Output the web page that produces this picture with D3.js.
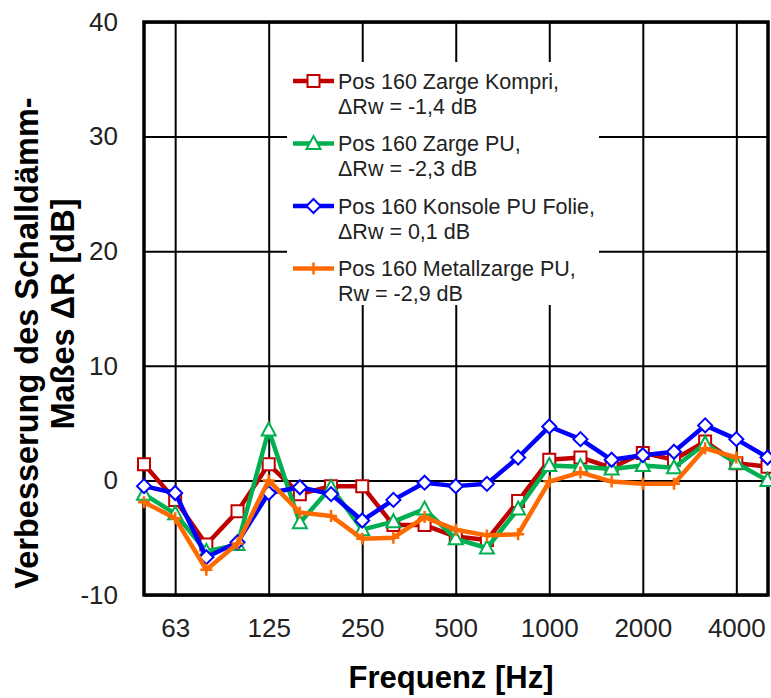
<!DOCTYPE html>
<html>
<head>
<meta charset="utf-8">
<script src="https://cdn.jsdelivr.net/npm/d3@7"></script>
<style>
  body { margin: 0; background: #fff; }
  svg { font-family: 'Liberation Sans', Arial, sans-serif; }
</style>
</head>
<body>
<svg id="chart"></svg>
<script>
var width = 771;
var height = 698;

var plotLeft = 144, plotRight = 768, plotTop = 22, plotBottom = 595;

// terzband frequencies (category axis)
var freqs = ['50', '63', '80', '100', '125', '160', '200', '250', '315', '400', '500',
             '630', '800', '1000', '1250', '1600', '2000', '2500', '3150', '4000', '5000'];
var tickLabels = ['63', '125', '250', '500', '1000', '2000', '4000'];
var yTicks = [-10, 0, 10, 20, 30, 40];

var zargeKompri = [1.4, -1.7, -5.6, -2.7, 1.4, -1.2, -0.5, -0.5, -3.9, -3.9, -4.9,
                   -5.2, -1.8, 1.8, 2.0, 1.1, 2.4, 1.8, 3.4, 1.5, 1.2];
var zargePU = [-1.2, -2.9, -6.2, -5.6, 4.4, -3.7, -0.6, -4.3, -3.6, -2.5, -5.1,
               -5.9, -2.5, 1.3, 1.2, 1.0, 1.3, 1.1, 3.2, 1.5, 0.0];
var konsolePU = [-0.5, -1.1, -6.7, -5.4, -1.1, -0.6, -1.2, -3.5, -1.7, -0.2, -0.5,
                 -0.3, 2.0, 4.7, 3.6, 1.8, 2.2, 2.5, 4.8, 3.6, 2.0];
var metallzarge = [-1.9, -3.3, -7.8, -5.5, 0.0, -2.8, -3.1, -5.1, -5.0, -3.2, -4.3,
                   -4.8, -4.7, -0.1, 0.7, -0.1, -0.3, -0.3, 2.8, 2.0, null];

var seriesNames = ['Pos 160 Zarge Kompri,', 'Pos 160 Zarge PU,',
                   'Pos 160 Konsole PU Folie,', 'Pos 160 Metallzarge PU,'];
var seriesNotes = ['\u0394Rw = -1,4 dB', '\u0394Rw = -2,3 dB', '\u0394Rw = 0,1 dB', 'Rw = -2,9 dB'];
var seriesValues = [zargeKompri, zargePU, konsolePU, metallzarge];
var colors = ['#C00000', '#00B050', '#0000FF', '#FF6A00'];
var markers = ['square', 'triangle', 'diamond', 'plus'];

var svg = d3.select('#chart')
  .attr('width', width)
  .attr('height', height);

var xScale = d3.scalePoint()
  .domain(freqs)
  .range([plotLeft, plotRight - 0.5]);

var yScale = d3.scaleLinear()
  .domain([-10, 40])
  .range([plotBottom, plotTop]);

// grid + tick labels
var xAxis = d3.axisBottom(xScale)
  .tickValues(tickLabels)
  .tickSizeInner(-(plotBottom - plotTop))
  .tickSizeOuter(0)
  .tickPadding(24);

var yAxis = d3.axisLeft(yScale)
  .tickValues(yTicks)
  .tickFormat(d => String(d))
  .tickSizeInner(-(plotRight - plotLeft))
  .tickSizeOuter(0)
  .tickPadding(26);

var gx = svg.append('g')
  .attr('transform', `translate(0, ${plotBottom})`)
  .call(xAxis);

var gy = svg.append('g')
  .attr('transform', `translate(${plotLeft}, 0)`)
  .call(yAxis);

[gx, gy].forEach(function(g) {
  g.select('.domain').remove();
  g.selectAll('line').attr('stroke', '#000').attr('stroke-width', 2);
  g.selectAll('text')
    .attr('fill', '#222')
    .style('font-size', '26px')
    .style('font-family', "'Liberation Sans', Arial, sans-serif");
});

// frame
svg.append('rect')
  .attr('x', plotLeft)
  .attr('y', plotTop)
  .attr('width', plotRight - plotLeft)
  .attr('height', plotBottom - plotTop)
  .attr('fill', 'none')
  .attr('stroke', '#000')
  .attr('stroke-width', 3.5);

function markerPath(type) {
  if (type === 'square') return 'M-6,-6H6V6H-6Z';
  if (type === 'triangle') return 'M0,-7.5L7,5.5H-7Z';
  if (type === 'diamond') return 'M0,-7L7,0L0,7L-7,0Z';
  return 'M-6,0H6M0,-6V6';
}

function drawMarker(g, type, color) {
  var p = g.append('path').attr('d', markerPath(type));
  if (type === 'plus') {
    p.attr('fill', 'none').attr('stroke', color).attr('stroke-width', 2.5);
  } else {
    p.attr('fill', '#fff').attr('stroke', color).attr('stroke-width', 2);
  }
}

var line = d3.line()
  .defined(d => d.v !== null)
  .x(d => xScale(d.f))
  .y(d => yScale(d.v));

seriesValues.forEach(function(vals, i) {
  var pts = freqs.map((f, j) => ({ f: f, v: vals[j] }));
  var g = svg.append('g');

  g.append('path')
    .datum(pts)
    .attr('d', line)
    .attr('fill', 'none')
    .attr('stroke', colors[i])
    .attr('stroke-width', 4.5)
    .attr('stroke-linejoin', 'round');

  g.selectAll('g.pt')
    .data(pts.filter(d => d.v !== null))
    .enter()
    .append('g')
      .attr('class', 'pt')
      .attr('transform', d => `translate(${xScale(d.f)}, ${yScale(d.v)})`)
      .each(function() { drawMarker(d3.select(this), markers[i], colors[i]); });
});

// legend (white box hides the grid behind it)
var legend = svg.append('g');
legend.append('rect')
  .attr('x', 287)
  .attr('y', 62)
  .attr('width', 312)
  .attr('height', 243)
  .attr('fill', '#fff');

seriesNames.forEach(function(name, i) {
  var ly = 81 + i * 62.5;
  var lg = legend.append('g').attr('transform', `translate(0, ${ly})`);
  lg.append('line')
    .attr('x1', 293).attr('x2', 334)
    .attr('stroke', colors[i])
    .attr('stroke-width', 4.5);
  var m = lg.append('g').attr('transform', 'translate(313.5, 0)');
  drawMarker(m, markers[i], colors[i]);
  lg.append('text')
    .attr('x', 338)
    .attr('y', 7.5)
    .style('font-size', '21.5px')
    .attr('fill', '#222')
    .text(name);
  lg.append('text')
    .attr('x', 338)
    .attr('y', 32.5)
    .style('font-size', '21.5px')
    .attr('fill', '#222')
    .text(seriesNotes[i]);
});

// x-axis title
svg.append('text')
  .attr('x', 451)
  .attr('y', 688)
  .style('text-anchor', 'middle')
  .style('font-size', '31px')
  .style('font-weight', 'bold')
  .text('Frequenz [Hz]');

// y-axis title (two lines)
svg.append('text')
  .attr('transform', 'translate(38, 343) rotate(-90)')
  .style('text-anchor', 'middle')
  .style('font-size', '32.5px')
  .style('font-weight', 'bold')
  .text('Verbesserung des Schalldämm-');

svg.append('text')
  .attr('transform', 'translate(74, 314) rotate(-90)')
  .style('text-anchor', 'middle')
  .style('font-size', '32.5px')
  .style('font-weight', 'bold')
  .text('Maßes \u0394R [dB]');
</script>
</body>
</html>
